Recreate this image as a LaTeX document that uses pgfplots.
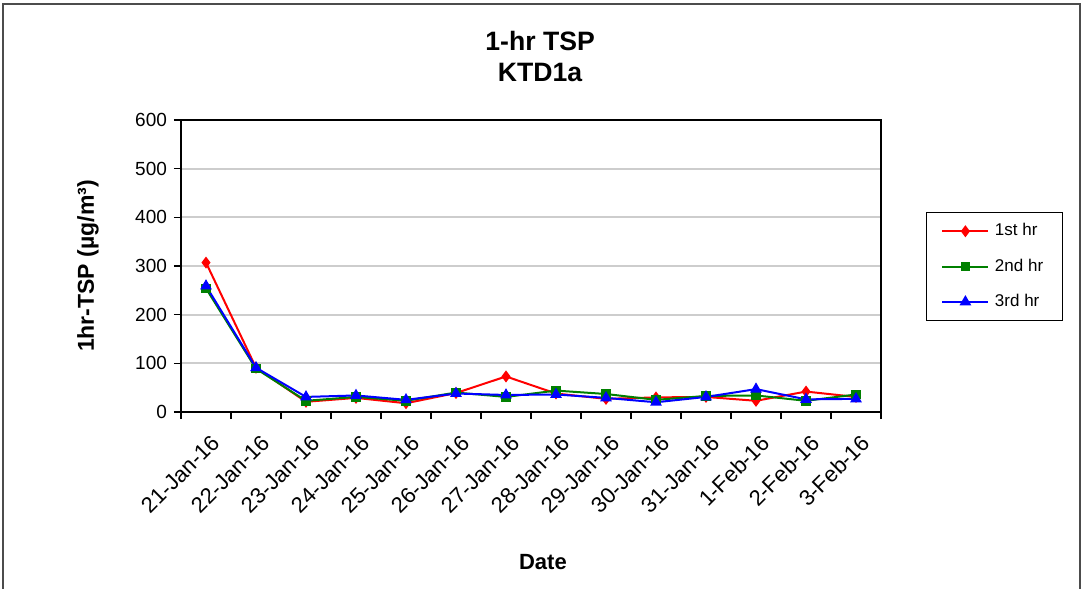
\documentclass[border=0pt]{standalone}
\usepackage{fontspec}
\setmainfont{Liberation Sans}
\usepackage{pgfplots}
\pgfplotsset{compat=1.18}
\definecolor{gridgray}{RGB}{205,205,205}
\begin{document}
\begin{tikzpicture}[x=0.5pt,y=-0.5pt]
\path[use as bounding box] (0,0) rectangle (1083,589);
\draw[line width=0.6pt, black!70] (3,4) rectangle (1080,640);
\begin{axis}[
  at={(90.5pt,-206pt)}, anchor=south west,
  width=350pt, height=146pt, scale only axis,
  xmin=-0.5, xmax=13.5, ymin=0, ymax=600,
  ytick={0,100,...,600},
  /pgf/number format/assume math mode=true,
  yticklabel style={font=\fontsize{9.5}{11}\selectfont},
  xtick={-0.5,0.5,...,13.5}, xticklabels={},
  xtick pos=bottom, ytick pos=left,
  extra x ticks={0,1,...,13},
  extra x tick labels={21-Jan-16,22-Jan-16,23-Jan-16,24-Jan-16,25-Jan-16,26-Jan-16,27-Jan-16,28-Jan-16,29-Jan-16,30-Jan-16,31-Jan-16,1-Feb-16,2-Feb-16,3-Feb-16},
  extra x tick style={major tick length=0pt, xticklabel style={rotate=45, anchor=north east, inner sep=0pt, font=\fontsize{11}{13}\selectfont, xshift=-6pt, yshift=-8.8pt}},
  tick align=outside, major tick length=3.5pt,
  tick style={black, line width=0.6pt},
  axis line style={line width=1.1pt},
  ymajorgrids, grid style={gridgray, line width=0.9pt},
  title={1-hr TSP\\KTD1a}, title style={align=center, font=\bfseries\fontsize{13.3}{15.5}\selectfont, at={(0.513,1.175)}, anchor=center},
  xlabel={Date}, xlabel style={font=\bfseries\fontsize{11}{13}\selectfont, at={(0.517,-0.514)}, anchor=center},
  ylabel={1hr-TSP (µg/m³)}, ylabel style={font=\bfseries\fontsize{11.5}{13}\selectfont, at={(-0.133,0.5)}, anchor=center, rotate=0},
  legend style={at={(1.064,0.685)}, anchor=north west, draw=black, line width=0.6pt, font=\fontsize{8.5}{10}\selectfont, inner xsep=7.5pt, inner ysep=3.5pt, row sep=6pt, cells={anchor=west}, /tikz/every odd column/.append style={column sep=0.8pt}},
  legend image code/.code={\draw[mark repeat=2,mark phase=2,#1] plot coordinates {(0pt,0pt)(11.5pt,0pt)(23pt,0pt)};},
]
\addplot[red, line width=1pt, mark=diamond*, mark size=2.2pt, mark options={solid}] coordinates {
(0,307)(1,91)(2,21)(3,29)(4,18)(5,39)(6,73)(7,38)(8,27)(9,30)(10,31)(11,23)(12,42)(13,31)};
\addlegendentry{1st hr}
\addplot[green!50!black, line width=1pt, mark=square*, mark size=1.9pt] coordinates {
(0,254)(1,89)(2,23)(3,31)(4,23)(5,40)(6,31)(7,44)(8,37)(9,25)(10,33)(11,34)(12,23)(13,36)};
\addlegendentry{2nd hr}
\addplot[blue, line width=1pt, mark=triangle*, mark size=2.4pt] coordinates {
(0,259)(1,91)(2,31)(3,34)(4,25)(5,38)(6,35)(7,36)(8,29)(9,20)(10,31)(11,47)(12,26)(13,27)};
\addlegendentry{3rd hr}
\end{axis}
\end{tikzpicture}
\end{document}
